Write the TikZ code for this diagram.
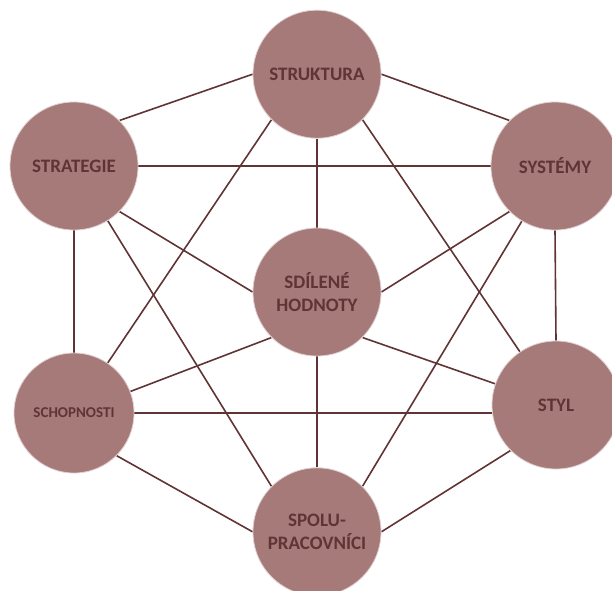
\documentclass[tikz,border=0pt]{standalone}
\usepackage{fontspec}
\setmainfont{Carlito}
\usetikzlibrary{positioning,backgrounds}
\definecolor{mauve}{RGB}{166,122,121}
\definecolor{darkbrown}{RGB}{96,52,52}

\begin{document}
\begin{tikzpicture}[
      x=1pt, y=-1pt,
      mycircle/.style={
         circle,
         fill=mauve,
         draw=mauve!35!white,
         line width=0.8pt,
         text=darkbrown,
         inner sep=0pt,
         minimum size=128pt,
         align=center,
         font=\bfseries\fontsize{19}{23}\selectfont},
      myline/.style={draw=darkbrown, line width=1.6pt},
      node distance=89pt and 89pt
      ]
      \path[use as bounding box, clip] (0,0) rectangle (612,590);

      \node[mycircle] (sh) at (317,292) {SDÍLENÉ\\HODNOTY};
      \node[mycircle,above=of sh] (str) {STRUKTURA};
      \node[mycircle,below=111pt of sh] (sp) {SPOLU-\\PRACOVNÍCI};
      \node[mycircle] (stg) at (74,166) {STRATEGIE};
      \node[mycircle] (sys) at (555,166) {SYSTÉMY};
      \node[mycircle,minimum size=120pt,font=\bfseries\fontsize{15}{18}\selectfont] (sch) at (74,413) {SCHOPNOSTI};
      \node[mycircle] (sty) at (556,405) {STYL};

    \begin{scope}[on background layer]
    \foreach \i/\j in {% start anchor/end anchor
      str.west/stg.north east,
      str.east/sys.north west,
      str.south/sh.north,
      str.south west/sch,
      str.south east/sty,
      stg.east/sys.west,
      stg.south east/sh.west,
      stg.south/sch.north,
      stg/sp.north west,
      sys.south west/sh.east,
      sys.south/sty.north,
      sys/sp.north east,
      sh.south west/sch,
      sh.south east/sty,
      sh.south/sp.north,
      sch.south east/sp.west,
      sty.south west/sp.east}
       \draw [myline] (\i) -- (\j);
    \draw [myline] (sch.east) -- (sch.east -| sty);
    \end{scope}

    \end{tikzpicture}
\end{document}
